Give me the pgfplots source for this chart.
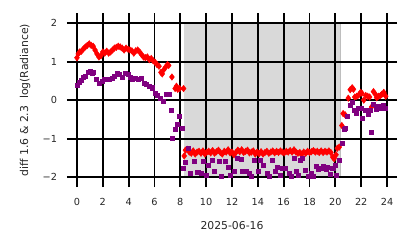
\documentclass[border=0pt]{standalone}
\usepackage{fontspec}
\setmainfont{DejaVu Sans}
\usepackage{pgfplots}
\pgfplotsset{compat=1.18}
\definecolor{mpurple}{RGB}{128,0,128}
\begin{document}
\begin{tikzpicture}
\useasboundingbox (-55.4pt,-51.1pt) rectangle (242.6pt,127.5pt);
\begin{axis}[
  at={(0,0)}, anchor=south west,
  scale only axis, width=223.2pt, height=110.9pt,
  xmin=0, xmax=24, ymin=-2, ymax=2,
  xtick={0,2,...,24}, ytick={-2,-1,0,1,2},
  yticklabels={−2,−1,0,1,2},
  grid=major,
  major grid style={black, line width=1.4pt},
  axis line style={draw=none},
  tick align=outside,
  major tick length=7.2pt,
  tick style={black, line width=1.4pt},
  axis on top,
  clip=true,
  /pgf/number format/assume math mode=true,
  ticklabel style={font=\fontsize{7}{8}\selectfont, text=black!85},
  xticklabel style={yshift=-4.5pt},
  yticklabel style={xshift=-3.6pt},
  label style={font=\fontsize{7.8}{9}\selectfont, text=black!85},
  xlabel={2025-06-16},
  ylabel={diff 1.6 \& 2.3\ \ log(Radiance)},
  xlabel style={yshift=-4.5pt},
  ylabel style={yshift=2pt},
]
\addplot[only marks, mark=diamond*, mark size=2.3pt, color=red, mark options={draw=red, fill=red}] coordinates {
(0.00,1.10)(0.10,1.20)(0.20,1.25)(0.35,1.27)(0.50,1.33)(0.65,1.38)(0.80,1.42)(0.95,1.46)
(1.10,1.42)(1.25,1.40)(1.40,1.30)(1.55,1.20)(1.70,1.12)(1.85,1.15)(2.00,1.25)(2.15,1.22)
(2.30,1.27)(2.45,1.22)(2.60,1.25)(2.75,1.30)(2.90,1.35)(3.05,1.37)(3.20,1.40)(3.35,1.38)
(3.50,1.35)(3.65,1.30)(3.80,1.35)(3.95,1.32)(4.10,1.30)(4.25,1.28)(4.40,1.22)(4.55,1.28)
(4.70,1.30)(4.85,1.25)(5.00,1.18)(5.15,1.12)(5.30,1.10)(5.45,1.12)(5.60,1.05)(5.75,1.08)
(5.90,1.02)(6.05,0.98)(6.20,0.92)(6.35,0.88)(6.50,0.72)(6.60,0.68)(6.70,0.78)(6.85,0.85)
(7.00,0.92)(7.10,0.90)(7.35,0.60)(7.60,0.30)(7.70,0.36)(7.80,0.28)(7.95,0.30)(8.25,0.30)
(8.30,-1.45)(8.40,-1.30)(8.55,-1.28)(8.70,-1.35)(8.85,-1.38)(9.00,-1.32)(9.15,-1.40)(9.30,-1.35)
(9.45,-1.33)(9.60,-1.38)(9.75,-1.32)(9.90,-1.40)(10.05,-1.35)(10.20,-1.33)(10.35,-1.37)(10.50,-1.31)
(10.65,-1.38)(10.80,-1.34)(10.95,-1.30)(11.10,-1.36)(11.25,-1.40)(11.40,-1.33)(11.55,-1.35)(11.70,-1.29)
(11.85,-1.37)(12.00,-1.35)(12.15,-1.42)(12.30,-1.36)(12.45,-1.30)(12.60,-1.34)(12.75,-1.29)(12.90,-1.36)
(13.05,-1.33)(13.20,-1.30)(13.35,-1.37)(13.50,-1.35)(13.65,-1.32)(13.80,-1.40)(13.95,-1.35)(14.10,-1.39)
(14.25,-1.34)(14.40,-1.40)(14.55,-1.36)(14.70,-1.33)(14.85,-1.38)(15.00,-1.35)(15.15,-1.32)(15.30,-1.37)
(15.45,-1.33)(15.60,-1.36)(15.75,-1.32)(15.90,-1.35)(16.05,-1.37)(16.20,-1.33)(16.35,-1.35)(16.50,-1.31)
(16.65,-1.35)(16.80,-1.29)(16.95,-1.35)(17.10,-1.38)(17.25,-1.36)(17.40,-1.40)(17.55,-1.35)(17.70,-1.38)
(17.85,-1.33)(18.00,-1.36)(18.15,-1.34)(18.30,-1.31)(18.45,-1.35)(18.60,-1.33)(18.75,-1.36)(18.90,-1.32)
(19.05,-1.36)(19.20,-1.33)(19.35,-1.35)(19.50,-1.32)(19.65,-1.36)(19.80,-1.48)(19.90,-1.52)(20.05,-1.42)
(20.15,-1.25)(20.30,-1.22)
(20.50,-0.66)(20.60,-0.35)(20.75,-0.38)(21.00,0.05)(21.15,0.27)(21.30,0.32)(21.40,0.28)(21.50,0.08)
(21.65,0.10)(21.80,0.13)(21.95,0.20)(22.05,0.18)(22.20,0.00)(22.35,0.12)(22.50,0.10)(22.65,0.08)
(22.80,-0.18)(22.95,0.22)(23.10,0.15)(23.20,0.06)(23.35,0.10)(23.50,0.12)(23.60,0.15)(23.75,0.20)(23.90,0.10)
};
\addplot[only marks, mark=square*, mark size=1.45pt, color=mpurple, mark options={draw=mpurple, fill=mpurple}] coordinates {
(0.05,0.38)(0.20,0.47)(0.35,0.52)(0.50,0.58)(0.65,0.62)(0.85,0.72)(1.00,0.74)(1.15,0.70)
(1.30,0.71)(1.50,0.55)(1.75,0.43)(1.95,0.48)(2.10,0.55)(2.30,0.53)(2.50,0.55)(2.70,0.57)
(2.90,0.62)(3.10,0.70)(3.30,0.66)(3.50,0.58)(3.75,0.70)(3.95,0.66)(4.10,0.60)(4.30,0.55)
(4.50,0.56)(4.75,0.55)(5.00,0.56)(5.20,0.44)(5.40,0.40)(5.60,0.36)(5.85,0.32)(6.05,0.18)
(6.25,0.12)(6.45,0.05)(6.65,-0.04)(6.90,0.16)(7.15,0.16)(7.30,-0.26)(7.40,-1.00)(7.60,-0.75)
(7.75,-0.62)(7.95,-0.43)(8.15,-0.72)
(8.25,-1.78)(8.40,-1.61)(8.62,-1.26)(8.80,-1.90)(9.10,-1.60)(9.35,-1.87)(9.60,-1.90)(9.80,-1.60)
(10.00,-1.95)(10.20,-1.68)(10.50,-1.56)(10.65,-1.85)(11.00,-1.59)(11.20,-1.98)(11.45,-1.60)(11.70,-1.75)
(11.90,-1.95)(12.20,-1.86)(12.40,-1.50)(12.70,-1.53)(12.80,-1.86)(13.10,-1.84)(13.30,-1.90)(13.50,-1.97)
(13.75,-1.56)(14.00,-1.86)(14.20,-1.56)(14.40,-1.70)(14.70,-1.90)(14.90,-1.98)(15.10,-1.56)(15.35,-1.86)
(15.50,-1.74)(15.70,-1.95)(15.90,-1.78)(16.10,-1.78)(16.40,-1.90)(16.60,-1.97)(16.80,-1.50)(16.95,-1.86)
(17.15,-1.95)(17.30,-1.56)(17.45,-1.50)(17.70,-1.82)(17.90,-1.97)(18.10,-1.90)(18.30,-1.97)(18.50,-1.72)
(18.65,-1.80)(18.90,-1.78)(19.10,-1.72)(19.30,-1.80)(19.40,-1.74)(19.60,-1.92)(19.80,-1.78)(20.00,-1.70)
(20.10,-1.95)(20.30,-1.57)
(20.50,-1.12)(20.67,-0.77)(20.80,-0.72)(20.95,-0.42)(21.13,-0.14)(21.30,-0.05)(21.50,-0.27)(21.65,-0.35)
(21.80,-0.21)(22.00,-0.21)(22.10,-0.46)(22.35,-0.27)(22.55,-0.36)(22.70,-0.27)(22.80,-0.83)(22.90,-0.10)
(23.15,-0.25)(23.30,-0.17)(23.50,-0.21)(23.70,-0.14)(23.85,-0.20)
};
\fill[gray, opacity=0.3] (axis cs:8.35,-2) rectangle (axis cs:20.4,2);
\draw[gray, opacity=0.3, line width=0.8pt] (axis cs:8.35,-2) rectangle (axis cs:20.4,2);
\end{axis}
\end{tikzpicture}
\end{document}
